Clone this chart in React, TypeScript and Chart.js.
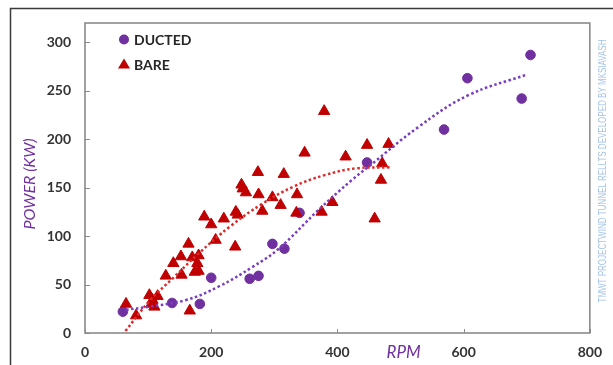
import React, { useEffect, useRef } from "react";
import { Chart, registerables } from "chart.js";

Chart.register(...registerables);

// ---- data ----
const ductedRpm = [60, 138, 182, 200, 261, 275, 297, 316, 340, 447, 569, 606, 692, 706];
const ductedPower = [22, 31, 30, 57, 56, 59, 92, 87, 124, 176, 210, 263, 242, 287];

const bareRpm = [
  65, 81, 102, 115, 105, 110, 107, 128, 140, 152, 164, 153, 166, 170, 180, 178, 174, 180,
  189, 200, 207, 220, 238, 239, 242, 248, 250, 255, 274, 275, 281, 297, 310, 315, 335, 336,
  348, 375, 392, 379, 413, 447, 459, 469, 471, 481,
];
const barePower = [
  30, 18, 39, 38, 30, 27, 34, 59, 72, 79, 92, 60, 23, 78, 80, 72, 63, 64,
  120, 112, 96, 118, 89, 125, 122, 153, 149, 145, 166, 143, 126, 140, 132, 164, 124, 143,
  186, 125, 135, 229, 182, 194, 118, 158, 175, 195,
];

// dotted trend lines
const ductedTrendRpm = [65, 100, 160, 212, 265, 307, 370, 423, 450, 527, 606, 701];
const ductedTrendPower = [24, 27, 34, 48, 68, 87, 127, 158, 172, 212, 245, 267];

const bareTrendRpm = [64, 102, 140, 180, 230, 280, 330, 380, 430, 483];
const bareTrendPower = [2, 33, 57, 82, 110, 133, 151, 163, 170, 171];

const xTicks = [0, 200, 400, 600, 800];
const yTicks = [0, 50, 100, 150, 200, 250, 300];

const seriesNames = ["DUCTED", "BARE"];
const xTitle = "RPM";
const yTitle = "POWER (KW)";
const watermark = "TMWT PROJECTWIND TUNNEL RELLTS DEVELOPED BY MKSIAVASH";

const PURPLE = "#7030A0";
const RED = "#C00000";
const FONT = "Lato, 'Open Sans', sans-serif";

const zip = (xs: number[], ys: number[]) => xs.map((x, i) => ({ x, y: ys[i] }));

const decorPlugin = {
  id: "decor",
  beforeDraw(chart: any) {
    const ctx = chart.ctx as CanvasRenderingContext2D;
    ctx.save();
    ctx.fillStyle = "#ffffff";
    ctx.fillRect(0, 0, chart.width, chart.height);
    // outer chart frame (top and left visible)
    ctx.strokeStyle = "#3a3a3a";
    ctx.lineWidth = 1.5;
    ctx.beginPath();
    ctx.moveTo(10.5, chart.height + 5);
    ctx.lineTo(10.5, 8.5);
    ctx.lineTo(chart.width + 5, 8.5);
    ctx.stroke();
    ctx.restore();
  },
  afterDraw(chart: any) {
    const ctx = chart.ctx as CanvasRenderingContext2D;
    const { left, right, top, bottom } = chart.chartArea;
    const xs = chart.scales.x;
    const ys = chart.scales.y;
    ctx.save();
    // plot area border
    ctx.strokeStyle = "#8a8a8a";
    ctx.lineWidth = 1.6;
    ctx.strokeRect(left, top, right - left, bottom - top);
    // inner tick marks
    ctx.lineWidth = 1;
    ctx.strokeStyle = "#8a8a8a";
    ctx.beginPath();
    yTicks.forEach((v) => {
      const p = Math.round(ys.getPixelForValue(v)) + 0.5;
      ctx.moveTo(left, p);
      ctx.lineTo(left + 5, p);
    });
    xTicks.forEach((v) => {
      const p = Math.round(xs.getPixelForValue(v)) + 0.5;
      ctx.moveTo(p, bottom);
      ctx.lineTo(p, bottom - 4);
    });
    ctx.stroke();

    // legend inside the plot
    const lx = left + 39;
    const ly1 = top + 16.5;
    const ly2 = top + 41.5;
    ctx.fillStyle = PURPLE;
    ctx.beginPath();
    ctx.arc(lx, ly1, 5, 0, Math.PI * 2);
    ctx.fill();
    ctx.fillStyle = RED;
    ctx.beginPath();
    ctx.moveTo(lx, ly2 - 6);
    ctx.lineTo(lx + 6, ly2 + 4);
    ctx.lineTo(lx - 6, ly2 + 4);
    ctx.closePath();
    ctx.fill();
    ctx.fillStyle = "#262626";
    ctx.font = `bold 14px ${FONT}`;
    ctx.textAlign = "left";
    ctx.textBaseline = "middle";
    ctx.fillText(seriesNames[0], lx + 10, ly1 + 1);
    ctx.fillText(seriesNames[1], lx + 10, ly2 + 1);

    // axis titles
    ctx.fillStyle = PURPLE;
    ctx.font = `italic 17px ${FONT}`;
    ctx.textAlign = "center";
    ctx.fillText(xTitle, xs.getPixelForValue(505), 353);
    ctx.save();
    ctx.translate(30, 184);
    ctx.rotate(-Math.PI / 2);
    ctx.font = `italic 16px ${FONT}`;
    ctx.fillText(yTitle, 0, 0);
    ctx.restore();

    // vertical watermark
    ctx.save();
    ctx.translate(603, 171);
    ctx.rotate(-Math.PI / 2);
    ctx.fillStyle = "#a4c4e6";
    ctx.font = `10px 'Liberation Sans', sans-serif`;
    ctx.textAlign = "center";
    ctx.textBaseline = "middle";
    ctx.fillText(watermark, 0, 0, 263);
    ctx.restore();

    ctx.restore();
  },
};

export default function App() {
  const ref = useRef<HTMLCanvasElement | null>(null);

  useEffect(() => {
    if (!ref.current) return;
    const chart = new Chart(ref.current, {
      type: "scatter",
      data: {
        datasets: [
          {
            type: "line",
            label: "ducted trend",
            data: zip(ductedTrendRpm, ductedTrendPower),
            borderColor: "#7a3cc0",
            borderWidth: 2.5,
            borderDash: [2.5, 2.5],
            pointRadius: 0,
            tension: 0.4,
            fill: false,
            order: 0,
          } as any,
          {
            type: "line",
            label: "bare trend",
            data: zip(bareTrendRpm, bareTrendPower),
            borderColor: "#e02a2a",
            borderWidth: 2.5,
            borderDash: [2.5, 2.5],
            pointRadius: 0,
            tension: 0.4,
            fill: false,
            order: 0,
          } as any,
          {
            label: seriesNames[1],
            data: zip(bareRpm, barePower),
            pointStyle: "triangle",
            pointRadius: 6.5,
            backgroundColor: RED,
            borderColor: RED,
            borderWidth: 1,
            order: 1,
          },
          {
            label: seriesNames[0],
            data: zip(ductedRpm, ductedPower),
            pointStyle: "circle",
            pointRadius: 4.8,
            backgroundColor: PURPLE,
            borderColor: PURPLE,
            borderWidth: 1,
            order: 2,
          },
        ],
      },
      options: {
        animation: false,
        responsive: false,
        layout: { padding: { left: 25, top: 23, right: 20, bottom: 2 } },
        plugins: {
          legend: { display: false },
          tooltip: { enabled: false },
        },
        scales: {
          x: {
            type: "linear",
            min: 0,
            max: 800,
            afterBuildTicks: (s: any) => {
              s.ticks = xTicks.map((v) => ({ value: v }));
            },
            afterFit: (s: any) => {
              s.height = 30;
            },
            grid: { display: false, drawTicks: false },
            border: { display: false },
            ticks: {
              font: { family: FONT, size: 14, weight: "bold" },
              color: "#333333",
              padding: 11,
              maxRotation: 0,
            },
          },
          y: {
            type: "linear",
            min: 0,
            max: 320,
            afterBuildTicks: (s: any) => {
              s.ticks = yTicks.map((v) => ({ value: v }));
            },
            afterFit: (s: any) => {
              s.width = 60;
            },
            grid: { display: false, drawTicks: false },
            border: { display: false },
            ticks: {
              font: { family: FONT, size: 14, weight: "bold" },
              color: "#333333",
              padding: 14,
            },
          },
        },
      },
      plugins: [decorPlugin],
    });
    return () => chart.destroy();
  }, []);

  return (
    <div style={{ position: "fixed", left: 0, top: 0, width: 613, height: 365 }}>
      <canvas ref={ref} width={613} height={365} style={{ display: "block" }} />
    </div>
  );
}
